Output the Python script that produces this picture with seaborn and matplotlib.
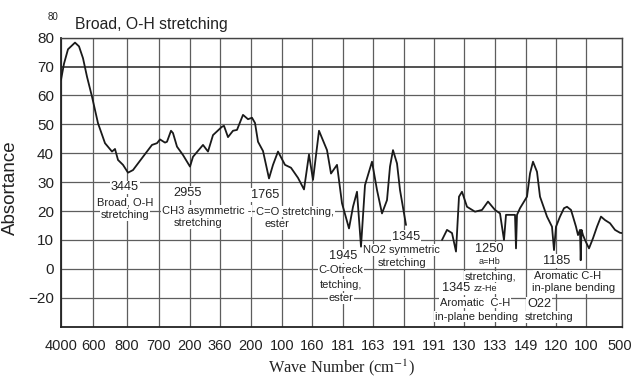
import numpy as np
import pandas as pd
import matplotlib
matplotlib.use("Agg")
import matplotlib.pyplot as plt
import matplotlib.transforms as mtransforms
import seaborn as sns

# ---------------- data ----------------
# chart position along the (non-linear) wave-number axis, absorbance value, segment id
position = [0, 3, 7, 14, 18, 22, 26, 31, 37, 44, 51, 54, 57, 62, 67, 72, 82, 91, 96, 99,
            104, 106, 110, 112, 116, 122, 129, 132, 142, 147, 152, 161, 163, 167, 172, 176,
            182, 187, 191, 194, 197, 202, 208, 212, 217, 224, 230, 237, 243, 248, 252, 258,
            266, 270, 276, 281, 288, 292, 296, 300, 304, 311, 316, 321, 326, 329, 332, 336,
            339, 345,
            381, 386, 391, 395, 398, 401, 406, 414, 421, 427, 434, 439, 443, 445, 454, 455,
            456, 459, 466, 469, 472, 476, 479, 486, 491, 493, 495, 499, 503, 506, 510, 512,
            515, 517, 519, 519.7, 520.5, 522, 524, 528, 532, 536, 540, 544, 549, 554, 559, 561]
absorbance = [65.4, 71, 76, 78.3, 77, 72.9, 66.5, 59.6, 50.4, 43.5, 40.6, 41.5, 37.7, 36, 33.3,
              34.2, 38.8, 42.9, 43.5, 44.8, 43.7, 44, 47.8, 47, 42.3, 39.4, 35.4, 38.8, 42.9,
              40.6, 46.3, 49.2, 49.5, 45.6, 47.8, 48.1, 53.3, 51.8, 52.3, 50.5, 44, 40.8, 31.3,
              36, 40.6, 36, 35, 31.5, 27.5, 39.6, 30.8, 47.8, 41.1, 33, 36, 22.7, 14, 21.5,
              26.7, 7.7, 29, 37.1, 27.3, 19.2, 23.8, 35.4, 41.1, 36.5, 27.3, 15.2,
              10, 13.5, 12.4, 6, 25, 26.7, 21.5, 19.8, 20.4, 23.3, 20.4, 19.2, 10, 18.7, 18.7,
              7.1, 18.7, 21, 25, 33, 37.1, 33.6, 25, 18.1, 14.6, 6.5, 14.6, 18.1, 21, 21.5,
              20.4, 18.1, 14.6, 11.7, 13.5, 3, 13.5, 11.7, 10, 7.1, 10.6, 14.6, 18.1, 16.9,
              15.8, 13.5, 12.5, 12.4]
segment = [0] * 70 + [1] * (len(position) - 70)

x_tick_labels = ["4000", "600", "800", "700", "200", "360", "200", "100", "160", "181",
                 "163", "191", "191", "130", "133", "149", "120", "100", "500"]
y_tick_labels = ["80", "70", "60", "50", "40", "30", "20", "10", "0", "\u221220"]

# annotation text: (label, x position, y value, fontsize)
annotations = [
    ("3445", 64, 28.2, 9.2), ("Broad, O-H", 64, 22.9, 8), ("stretching", 64, 18.7, 8),
    ("2955", 126.7, 26.2, 9.2), ("CH3 asymmetric -", 145.7, 20.1, 8), ("stretching", 137.3, 15.8, 8),
    ("1765", 204, 25.6, 9.2), ("C=O stretching,", 234, 19.8, 8), ("ester", 215.7, 15.4, 8),
    ("1345", 345, 11.1, 9.2), ("NO2 symmetric", 340.7, 6.5, 8), ("stretching", 340.7, 2.1, 8),
    ("1945", 282.3, 4.5, 9.2), ("C-Otreck", 280, -0.4, 8), ("tetching,", 280, -5.6, 8),
    ("ester", 280, -10.2, 8),
    ("1250", 428.3, 6.8, 9.2), ("a=Hb", 428.3, 2.5, 6.5), ("stretching,", 429.7, -2.7, 8),
    ("zz-He", 424, -6.7, 6.5), ("1345", 395, -6.7, 9.2), ("Aromatic  C-H", 414, -11.7, 8),
    ("in-plane bending", 415.7, -16.5, 8),
    ("1185", 495.7, 2.7, 9.2), ("Aromatic C-H", 506.3, -2.5, 8), ("in-plane bending", 512.3, -6.7, 8),
    ("O22", 478.3, -12.2, 9.2), ("stretching", 488.3, -16.7, 8),
]

# ---------------- style ----------------
sns.set_theme(style="white")
plt.rcParams["font.family"] = ["Liberation Sans", "DejaVu Sans"]
plt.rcParams["mathtext.fontset"] = "stix"

W, H = 631, 379
fig = plt.figure(figsize=(W / 100, H / 100), dpi=100)
ax_left, ax_right, ax_top, ax_bottom = 61, 622.3, 37.7, 326.7
ax = fig.add_axes([ax_left / W, 1 - ax_bottom / H, (ax_right - ax_left) / W, (ax_bottom - ax_top) / H])

df = pd.DataFrame({"pos": position, "absorb": absorbance, "seg": segment})
sns.lineplot(data=df, x="pos", y="absorb", units="seg", estimator=None, sort=False,
             color="#1a1a1a", linewidth=1.3, ax=ax, zorder=3)

x_ticks = [0, 32.3, 65.7, 98, 129, 159, 190, 220.7, 251, 282.3, 312.3, 343, 373.3,
           403.3, 434, 464.7, 495, 525, 561.3]
y_ticks = [80, 70, 60, 50, 40, 30, 20, 10, 0, -10]
ax.set_xlim(0, 561.3)
ax.set_ylim(-20, 80)
ax.set_xticks(x_ticks)
ax.set_xticklabels(x_tick_labels, fontsize=10.5, color="#222222")
ax.set_yticks(y_ticks)
ax.set_yticklabels(y_tick_labels, fontsize=11, color="#222222")
ax.tick_params(axis="both", length=0, pad=5)
ax.tick_params(axis="x", pad=9)
# keep the last tick label inside the canvas
last = ax.get_xticklabels()[-1]
last.set_transform(last.get_transform() + mtransforms.ScaledTranslation(-3 / 100, 0, fig.dpi_scale_trans))

ax.grid(True, color="#5e5e5e", linewidth=0.9)
ax.set_axisbelow(True)
for ln, v in zip(ax.get_ygridlines(), y_ticks):
    if v == 70:
        ln.set_color("#222222")
        ln.set_linewidth(1.1)

for side in ["left", "bottom", "right", "top"]:
    ax.spines[side].set_visible(True)
    ax.spines[side].set_color("#444444")
    ax.spines[side].set_linewidth(1.0)
ax.spines["left"].set_color("#222222")
ax.spines["bottom"].set_color("#222222")
ax.spines["left"].set_linewidth(1.3)
ax.spines["bottom"].set_linewidth(1.3)

ax.set_ylabel("Absortance", fontsize=13.5, color="#222222")
ax.yaxis.set_label_coords((19 - ax_left) / (ax_right - ax_left), 0.48)
ax.set_xlabel(r"Wave Number (cm$^{-1}$)", fontsize=11.8, color="#222222",
              family=["Liberation Serif", "DejaVu Serif"])
ax.xaxis.set_label_coords(0.5, (ax_bottom - 357) / (ax_bottom - ax_top))

for label, xp, yv, fs in annotations:
    ax.text(xp, yv, label, fontsize=fs, ha="center", va="center", color="#222222", zorder=4,
            bbox=dict(facecolor="white", edgecolor="none", pad=0.6))

fig.text(53 / W, 1 - 17 / H, "80", fontsize=7, ha="center", va="center", color="#222222")
fig.text(75 / W, 1 - 24 / H, "Broad, O-H stretching", fontsize=11.3, ha="left", va="center",
         color="#222222")

fig.savefig("out.png", dpi=100)
